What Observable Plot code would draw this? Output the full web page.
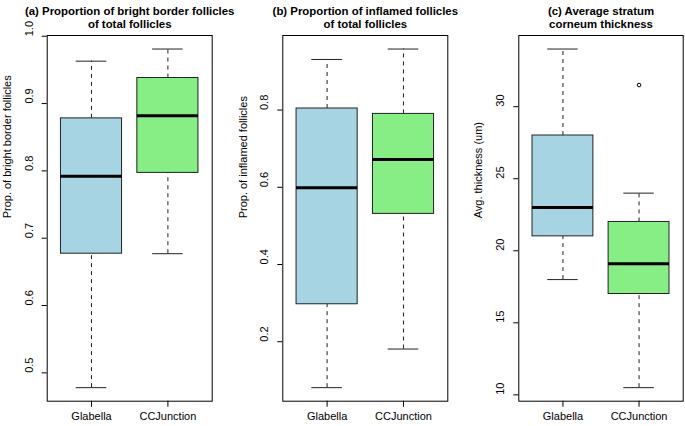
<!DOCTYPE html>
<html>
<head>
<meta charset="utf-8">
<script src="https://cdn.jsdelivr.net/npm/d3@7"></script>
<script src="https://cdn.jsdelivr.net/npm/@observablehq/plot@0.6"></script>
<style>
  body { margin: 0; background: #fff; }
  #chart { position: relative; width: 685px; height: 426px; overflow: hidden; background: #fff; }
  .panel { position: absolute; top: 0; }
</style>
</head>
<body>
<div id="chart"></div>
<script>
// Sampling sites shown on every panel
const sites = ["Glabella", "CCJunction"];
const siteColors = ["#a6d4e2", "#86ee85"];

// (a) proportion of bright border follicles: whisker ends, quartiles, medians
const brightLow    = [0.478, 0.677];
const brightQ1     = [0.677, 0.797];
const brightMedian = [0.792, 0.882];
const brightQ3     = [0.878, 0.938];
const brightHigh   = [0.963, 0.981];
const brightTicks  = [0.5, 0.6, 0.7, 0.8, 0.9, 1.0];

// (b) proportion of inflamed follicles
const inflamedLow    = [0.081, 0.181];
const inflamedQ1     = [0.297, 0.531];
const inflamedMedian = [0.599, 0.672];
const inflamedQ3     = [0.804, 0.790];
const inflamedHigh   = [0.931, 0.958];
const inflamedTicks  = [0.2, 0.4, 0.6, 0.8];

// (c) average stratum corneum thickness (um)
const thickLow    = [18.0, 10.5];
const thickQ1     = [21.0, 17.0];
const thickMedian = [23.0, 19.1];
const thickQ3     = [28.0, 22.0];
const thickHigh   = [34.0, 24.0];
const thickOutlierSite  = ["CCJunction"];
const thickOutlierValue = [31.5];
const thickTicks  = [10, 15, 20, 25, 30];

const panels = [
  { left: 0,   width: 228, marginLeft: 46.7, marginRight: 16.3,
    title: ["(a) Proportion of bright border follicles", "of total follicles"],
    ylabel: "Prop. of bright border follicles", labelDx: -40, tickDx: -17.5,
    low: brightLow, q1: brightQ1, median: brightMedian, q3: brightQ3, high: brightHigh,
    outSite: [], outValue: [], ticks: brightTicks, format: d3.format(".1f") },
  { left: 228, width: 228, marginLeft: 54.3, marginRight: 8.7,
    title: ["(b) Proportion of inflamed follicles", "of total follicles"],
    ylabel: "Prop. of inflamed follicles", labelDx: -39.3, tickDx: -18,
    low: inflamedLow, q1: inflamedQ1, median: inflamedMedian, q3: inflamedQ3, high: inflamedHigh,
    outSite: [], outValue: [], ticks: inflamedTicks, format: d3.format(".1f") },
  { left: 456, width: 229, marginLeft: 62.3, marginRight: 2.3,
    title: ["(c) Average stratum", "corneum thickness"],
    ylabel: "Avg. thickness (um)", labelDx: -40.3, tickDx: -18.5,
    low: thickLow, q1: thickQ1, median: thickMedian, q3: thickQ3, high: thickHigh,
    outSite: thickOutlierSite, outValue: thickOutlierValue, ticks: thickTicks, format: d3.format("d") }
];

const chart = document.getElementById("chart");
const svgHeight = 426;
const font = "Liberation Sans, Arial, sans-serif";

for (const p of panels) {
  const rows = sites.map((site, i) => ({
    site, low: p.low[i], q1: p.q1[i], median: p.median[i], q3: p.q3[i], high: p.high[i]
  }));
  const outliers = p.outSite.map((site, i) => ({ site, value: p.outValue[i] }));

  // y range like R's default: data range padded by 4% on each side
  const all = [...p.low, ...p.high, ...p.outValue];
  const [lo, hi] = d3.extent(all);
  const pad = (hi - lo) * 0.04;

  const frameWidth = p.width - p.marginLeft - p.marginRight;
  const bandwidth = frameWidth / 2.16 * 0.8;

  const plot = Plot.plot({
    width: p.width,
    height: svgHeight,
    marginTop: 35,
    marginBottom: 25.3,
    marginLeft: p.marginLeft,
    marginRight: p.marginRight,
    style: { fontFamily: font, fontSize: "11px", color: "#000", background: "transparent", overflow: "visible" },
    x: { type: "band", domain: sites, paddingInner: 0.2, paddingOuter: 0.18, round: false, label: null },
    y: { domain: [lo - pad, hi + pad], label: null },
    color: { domain: sites, range: siteColors },
    marks: [
      // whiskers
      Plot.ruleX(rows, { x: "site", y1: "q3", y2: "high", stroke: "#222", strokeDasharray: "4,4" }),
      Plot.ruleX(rows, { x: "site", y1: "low", y2: "q1", stroke: "#222", strokeDasharray: "4,4" }),
      // whisker caps
      Plot.tickY(rows, { x: "site", y: "high", stroke: "#222", inset: bandwidth / 4 }),
      Plot.tickY(rows, { x: "site", y: "low", stroke: "#222", inset: bandwidth / 4 }),
      // boxes
      Plot.barY(rows, { x: "site", y1: "q1", y2: "q3", fill: "site", stroke: "#222", strokeWidth: 1 }),
      // medians
      Plot.tickY(rows, { x: "site", y: "median", stroke: "#000", strokeWidth: 3 }),
      // outliers
      Plot.dot(outliers, { x: "site", y: "value", r: 1.8, stroke: "#000", fill: "none", strokeWidth: 1 }),
      Plot.frame({ stroke: "#000" }),
      // y ticks, with labels written parallel to the axis
      Plot.axisY({ ticks: p.ticks, tickSize: 5, tickFormat: () => "", label: null }),
      Plot.text(p.ticks, { y: d => d, text: d => p.format(d), frameAnchor: "left", dx: p.tickDx,
                           rotate: -90, fontSize: 11, fill: "#000" }),
      Plot.axisX({ tickSize: 6, tickPadding: 5, label: null, fontSize: 11 }),
      Plot.text([p.ylabel], { frameAnchor: "left", dx: p.labelDx, rotate: -90, text: d => d,
                              fontSize: 11, fill: "#000" }),
      // two-line bold panel title, centred over the plotting frame
      Plot.text([p.title[0]], { frameAnchor: "top", dy: -28.3, text: d => d,
                                fontSize: 11.4, fontWeight: "bold", fill: "#000" }),
      Plot.text([p.title[1]], { frameAnchor: "top", dy: -15.3, text: d => d,
                                fontSize: 11.4, fontWeight: "bold", fill: "#000" })
    ]
  });

  const panel = document.createElement("div");
  panel.className = "panel";
  panel.style.left = p.left + "px";
  panel.appendChild(plot);
  chart.appendChild(panel);
}
</script>
</body>
</html>
